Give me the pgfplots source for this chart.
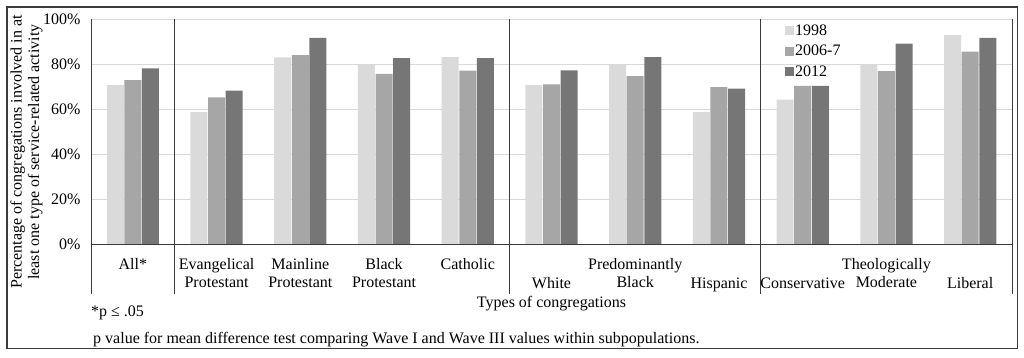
\documentclass[border=0pt]{standalone}
\usepackage{fontspec}
\setmainfont{Liberation Serif}
\usepackage{pgfplots}
\usepackage{pgfplotstable}
\pgfplotsset{compat=1.18}
\definecolor{c1}{HTML}{DADADA}
\definecolor{c2}{HTML}{A6A6A6}
\definecolor{c3}{HTML}{767676}
\definecolor{gridc}{HTML}{D9D9D9}
\definecolor{linec}{HTML}{3A3A3A}
\pgfplotstableread{
x a b c
0 70.8 73.0 78.2
1 58.7 65.3 68.3
2 83.1 84.1 91.8
3 79.7 75.7 82.7
4 83.2 77.2 82.7
5 70.8 71.1 77.3
6 79.7 74.7 83.2
7 58.7 69.9 69.2
8 64.3 70.4 70.4
9 79.7 77.0 89.2
10 93.0 85.6 91.8
}\data
\begin{document}
\begin{tikzpicture}[font=\fontsize{16}{17.5}\selectfont]
\useasboundingbox (0,0) rectangle (1024pt,-357pt);
\draw[line width=1.6pt, linec] (7pt,-7pt) rectangle (1017.5pt,-348.5pt);
\begin{axis}[
 at={(91pt,-244.3pt)}, anchor=south west,
 scale only axis, width=921pt, height=225pt,
 xmin=-0.5, xmax=10.5, ymin=0, ymax=100,
 clip=false,
 ybar=0.6pt, bar width=17pt,
 axis line style={draw=none},
 xtick={0,...,10},
 xticklabels={{All*},{Evangelical\\Protestant},{Mainline\\Protestant},{Black\\Protestant},{Catholic\\\strut},{\strut\\White},{Predominantly\\Black},{\strut\\Hispanic},{\strut\\Conservative},{Theologically\\Moderate},{\strut\\Liberal}},
 xticklabel style={align=center, anchor=north, yshift=-11pt, font=\fontsize{16}{17.5}\selectfont},
 major tick length=0pt,
 ytick={0,20,...,100},
 yticklabels={0\%,20\%,40\%,60\%,80\%,100\%},
 yticklabel style={xshift=-7pt, font=\fontsize{16}{17.5}\selectfont},
 ymajorgrids, grid style={gridc, line width=1pt},
 legend style={at={(rel axis cs:0.753,0.985)}, anchor=north west, draw=none, fill=none, legend cell align=left, row sep=5.5pt, inner sep=0pt, nodes={inner sep=1.5pt}, font=\fontsize{16}{17.5}\selectfont},
 legend image code/.code={\fill[#1] (0pt,-4.5pt) rectangle (9pt,4.5pt);},
]
\addplot[fill=c1, draw=none] table[x=x, y=a] {\data};
\addplot[fill=c2, draw=none] table[x=x, y=b] {\data};
\addplot[fill=c3, draw=none] table[x=x, y=c] {\data};
\legend{1998,2006-7,2012}
\draw[linec, line width=1pt] (axis cs:-0.5,0) -- (axis cs:10.5,0);
\foreach \s in {-0.5,0.5,4.5,7.5,10.5}{
  \edef\tmp{\noexpand\draw[linec, line width=1pt] (axis cs:\s,100) -- (axis cs:\s,-22.1);}\tmp
}
\end{axis}
\node[rotate=90, align=center] at (26.5pt,-152pt) {Percentage of congregations involved in at\\least one type of service-related activity};
\node at (551.5pt,-304pt) {Types of congregations};
\node[anchor=west, inner sep=0pt] at (91pt,-313pt) {*p ≤ .05};
\node[anchor=west, inner sep=0pt] at (93pt,-340pt) {p value for mean difference test comparing Wave I and Wave III values within subpopulations.};
\end{tikzpicture}
\end{document}
